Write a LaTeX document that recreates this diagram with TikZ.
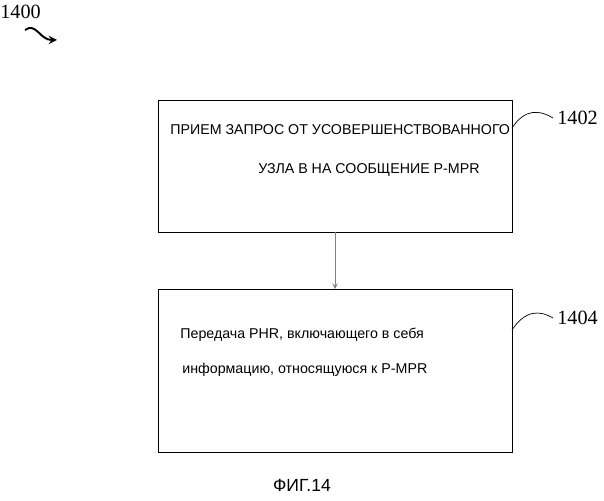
\documentclass[tikz,border=0pt]{standalone}
\usepackage{fontspec}
\setmainfont{Liberation Serif}
\newfontfamily\boxfont{Liberation Sans}
\usetikzlibrary{positioning}
\begin{document}
\begin{tikzpicture}[x=0.02cm,y=-0.02cm,>=stealth]
\tikzset{blockbox/.style={draw,thin},
  boxtext/.style={font=\boxfont\fontsize{8.1}{9}\selectfont,anchor=west,inner sep=0pt},
  refnum/.style={font=\fontsize{11.5}{13}\selectfont,anchor=west,inner sep=0pt}}
\useasboundingbox (0,0) rectangle (604,500);
\node [refnum] (fig) at (0,12) {1400};
\coordinate (figa) at (25,30);
\coordinate (figb) at (57,40);
\draw[->,line width=1.1pt] (figa) .. controls (36,22) and (40,40) .. (figb);
\draw [blockbox] (158,100) rectangle (512,232);
\coordinate (boxa) at (335,232);
\node [boxtext] (ta1) at (170,130) {ПРИЕМ ЗАПРОС ОТ УСОВЕРШЕНСТВОВАННОГО};
\node [boxtext] (ta2) at (258,170) {УЗЛА В НА СООБЩЕНИЕ P-MPR};
\draw [blockbox] (158,289) rectangle (512,452);
\coordinate (boxb) at (335,289);
\node [boxtext] (tb1) at (180,335) {Передача PHR, включающего в себя};
\node [boxtext] (tb2) at (182,370) {информацию, относящуюся к P-MPR};
\draw[->,gray] (boxa) -- (boxb);
\node [refnum] (n1402) at (557,118) {1402};
\draw (512,128) .. controls (525,108) and (540,110) .. (553,118);
\node [refnum] (n1404) at (557,318) {1404};
\draw (512,330) .. controls (525,310) and (540,310) .. (553,318);
\node [font=\boxfont\fontsize{10}{12}\selectfont] (cap) at (302,485) {ФИГ.14};
\end{tikzpicture}
\end{document}
